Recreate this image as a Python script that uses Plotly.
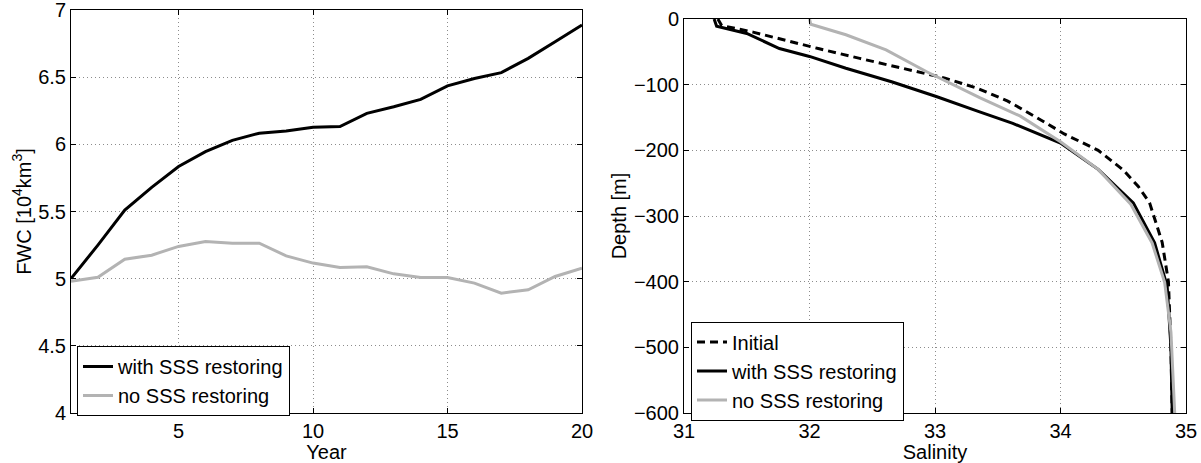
import plotly.graph_objects as go

# ---- Left panel data: FWC time series ----
years = list(range(1, 21))
fwc_with_sss = [5.00, 5.25, 5.51, 5.68, 5.835, 5.946, 6.03, 6.083, 6.10, 6.127,
                6.132, 6.231, 6.28, 6.335, 6.435, 6.49, 6.534, 6.64, 6.764, 6.888]
fwc_no_sss = [4.98, 5.01, 5.145, 5.175, 5.24, 5.277, 5.264, 5.264, 5.17, 5.116,
              5.083, 5.088, 5.036, 5.009, 5.009, 4.967, 4.892, 4.917, 5.016, 5.078]
year_ticks = [5, 10, 15, 20]
fwc_ticks = [4, 4.5, 5, 5.5, 6, 6.5, 7]
fwc_tick_labels = ["4", "4.5", "5", "5.5", "6", "6.5", "7"]

# ---- Right panel data: salinity profiles ----
depth_initial = [0, -10, -20, -30, -45, -60, -75, -90, -105, -125, -150, -175,
                 -200, -230, -255, -280, -340, -400, -500, -600]
sal_initial = [31.27, 31.30, 31.55, 31.75, 32.07, 32.40, 32.75, 33.08, 33.33, 33.58,
               33.81, 34.03, 34.30, 34.50, 34.62, 34.71, 34.81, 34.86, 34.88, 34.89]

depth_with = [0, -11, -22, -45, -57, -75, -96, -118, -141, -159, -189, -229,
              -280, -341, -407, -500, -600]
sal_with = [31.24, 31.26, 31.50, 31.76, 32.00, 32.29, 32.66, 33.01, 33.35, 33.62,
            34.00, 34.30, 34.58, 34.75, 34.85, 34.88, 34.89]

depth_no = [0, -8, -24, -47, -80, -120, -148, -187, -229, -282, -341, -401, -477, -600]
sal_no = [32.00, 32.01, 32.29, 32.61, 32.93, 33.36, 33.68, 34.00, 34.30, 34.56,
          34.73, 34.83, 34.88, 34.91]
sal_ticks = [31, 32, 33, 34, 35]
depth_ticks = [-600, -500, -400, -300, -200, -100, 0]

left_legend = ["with SSS restoring", "no SSS restoring"]
right_legend = ["Initial", "with SSS restoring", "no SSS restoring"]

BLACK = "#000000"
GRAY = "#b3b3b3"
FONT = "Liberation Sans, Arial, sans-serif"
FS = 20

fig = go.Figure()

fig.add_trace(go.Scatter(x=years, y=fwc_with_sss, mode="lines", name=left_legend[0],
                         line=dict(color=BLACK, width=3), xaxis="x", yaxis="y",
                         legend="legend"))
fig.add_trace(go.Scatter(x=years, y=fwc_no_sss, mode="lines", name=left_legend[1],
                         line=dict(color=GRAY, width=3), xaxis="x", yaxis="y",
                         legend="legend"))

fig.add_trace(go.Scatter(x=sal_initial, y=depth_initial, mode="lines", name=right_legend[0],
                         line=dict(color=BLACK, width=3, dash="8px,5px"),
                         xaxis="x2", yaxis="y2", legend="legend2"))
fig.add_trace(go.Scatter(x=sal_with, y=depth_with, mode="lines", name=right_legend[1],
                         line=dict(color=BLACK, width=3),
                         xaxis="x2", yaxis="y2", legend="legend2"))
fig.add_trace(go.Scatter(x=sal_no, y=depth_no, mode="lines", name=right_legend[2],
                         line=dict(color=GRAY, width=3),
                         xaxis="x2", yaxis="y2", legend="legend2"))

W, H = 1201, 463

def px_x(p):
    return p / W

def px_y(p):
    return (H - p) / H

axis_common = dict(
    showline=True, linecolor="black", linewidth=1, mirror="ticks",
    ticks="inside", ticklen=5, tickcolor="black", tickwidth=1,
    showgrid=True, gridcolor="#8c8c8c", gridwidth=1, griddash="1px,3px",
    zeroline=False, automargin=False, ticklabeloverflow="allow",
    tickfont=dict(family=FONT, size=FS, color="black"),
)

fig.update_layout(
    width=W, height=H, template="none",
    margin=dict(l=0, r=0, t=0, b=0),
    paper_bgcolor="white", plot_bgcolor="white",
    font=dict(family=FONT, size=FS, color="black"),
    xaxis=dict(domain=[px_x(71), px_x(582)], anchor="y", range=[1, 20],
               tickvals=year_ticks,
               title=dict(text="Year", standoff=0, font=dict(family=FONT, size=FS)),
               **axis_common),
    yaxis=dict(domain=[px_y(413), px_y(10)], anchor="x", range=[4, 7],
               tickvals=fwc_ticks, ticktext=fwc_tick_labels,
               title=dict(text="FWC [10<sup>4</sup>km<sup>3</sup>]", standoff=1,
                          font=dict(family=FONT, size=FS)),
               **axis_common),
    xaxis2=dict(domain=[px_x(684), px_x(1186)], anchor="y2", range=[31, 35],
                tickvals=sal_ticks,
                title=dict(text="Salinity", standoff=0, font=dict(family=FONT, size=FS)),
                **axis_common),
    yaxis2=dict(domain=[px_y(413), px_y(19)], anchor="x2", range=[-600, 0],
                tickvals=depth_ticks,
                title=dict(text="Depth [m]", standoff=1, font=dict(family=FONT, size=FS)),
                **axis_common),
    legend=dict(x=px_x(77), y=px_y(381), xanchor="left", yanchor="middle",
                bgcolor="white", bordercolor="black", borderwidth=1,
                font=dict(family=FONT, size=FS), tracegroupgap=0, itemwidth=30),
    legend2=dict(x=px_x(691), y=px_y(371), xanchor="left", yanchor="middle",
                 bgcolor="white", bordercolor="black", borderwidth=1,
                 font=dict(family=FONT, size=FS), tracegroupgap=0, itemwidth=30),
    showlegend=True,
)

fig.write_html(
    "out.html",
    config={"displayModeBar": False},
    post_script="document.body.style.margin='0';document.body.style.padding='0';"
                "document.body.style.overflow='hidden';",
)
